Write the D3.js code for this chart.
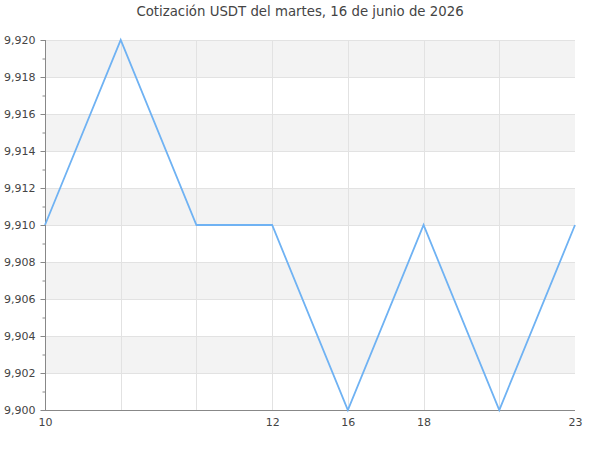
<!DOCTYPE html>
<html>
<head>
<meta charset="utf-8">
<script src="https://cdn.jsdelivr.net/npm/d3@7/dist/d3.min.js"></script>
<style>
  body { margin: 0; background: #fff; }
  svg { display: block; font-family: "DejaVu Sans", sans-serif; }
</style>
</head>
<body>
<svg id="chart" width="600" height="450"></svg>
<script>
const title = "Cotización USDT del martes, 16 de junio de 2026";
const hours = ["10", "", "", "12", "16", "18", "", "23"];
const values = [9.910, 9.920, 9.910, 9.910, 9.900, 9.910, 9.900, 9.910];
const yTicks = [9.900, 9.902, 9.904, 9.906, 9.908, 9.910, 9.912, 9.914, 9.916, 9.918, 9.920];
const yMinorTicks = [9.901, 9.903, 9.905, 9.907, 9.909, 9.911, 9.913, 9.915, 9.917, 9.919];

const svg = d3.select("#chart");
const margin = { left: 45, right: 25, top: 40, bottom: 40 };
const W = 600, H = 450;
const x0 = margin.left, x1 = W - margin.right, y0 = H - margin.bottom, y1 = margin.top;

const locale = d3.formatLocale({ decimal: ",", thousands: ".", grouping: [3], currency: ["", ""] });
const fmt = locale.format(".3f");

const x = d3.scalePoint().domain(d3.range(hours.length)).range([x0, x1]);
const y = d3.scaleLinear().domain([9.900, 9.920]).range([y0, y1]);

// bands
const bands = [];
for (let i = 0; i < yTicks.length - 1; i++) {
  if ((yTicks.length - 2 - i) % 2 === 0) bands.push([yTicks[i], yTicks[i + 1]]);
}
svg.append("g").selectAll("rect").data(bands).join("rect")
  .attr("x", x0).attr("width", x1 - x0)
  .attr("y", d => y(d[1])).attr("height", d => y(d[0]) - y(d[1]))
  .attr("fill", "#f3f3f3");

// horizontal grid
svg.append("g").selectAll("line").data(yTicks.slice(1)).join("line")
  .attr("x1", x0).attr("x2", x1)
  .attr("y1", d => Math.round(y(d)) + 0.5).attr("y2", d => Math.round(y(d)) + 0.5)
  .attr("stroke", "#e2e2e2").attr("stroke-width", 1);

// vertical grid
svg.append("g").selectAll("line").data(d3.range(1, hours.length - 1)).join("line")
  .attr("x1", d => Math.round(x(d)) + 0.5).attr("x2", d => Math.round(x(d)) + 0.5)
  .attr("y1", y1).attr("y2", y0)
  .attr("stroke", "#e2e2e2").attr("stroke-width", 1);

// y axis
const yAxis = d3.axisLeft(y).tickValues(yTicks).tickFormat(fmt).tickSize(5).tickPadding(5);
const gy = svg.append("g").attr("transform", `translate(${x0 + 0.5},0)`).call(yAxis);
gy.select(".domain").attr("stroke", "#888");
gy.selectAll(".tick line").attr("stroke", "#888");
gy.selectAll(".tick text").attr("fill", "#444").style("font-size", "11px").style("font-family", "DejaVu Sans, sans-serif");
const yMinor = d3.axisLeft(y).tickValues(yMinorTicks).tickFormat("").tickSize(3);
const gym = svg.append("g").attr("transform", `translate(${x0 + 0.5},0)`).call(yMinor);
gym.select(".domain").remove();
gym.selectAll(".tick line").attr("stroke", "#888");
gy.select(".domain").attr("d", `M0,${y1}V${y0 + 0.5}`);

// x axis
const xAxis = d3.axisBottom(x).tickFormat(i => hours[i]).tickSize(0).tickPadding(8);
const gx = svg.append("g").attr("transform", `translate(0,${y0 + 0.5})`).call(xAxis);
gx.select(".domain").attr("stroke", "#888").attr("d", `M${x0},0H${x1}`);
gx.selectAll(".tick text").attr("fill", "#444").style("font-size", "11px").style("font-family", "DejaVu Sans, sans-serif");

// line
const line = d3.line().x((d, i) => x(i)).y(d => y(d));
svg.append("path").datum(values)
  .attr("d", line).attr("fill", "none")
  .attr("stroke", "#6fb2f3").attr("stroke-width", 1.8).attr("stroke-linejoin", "miter");

// title
svg.append("text").attr("x", W / 2).attr("y", 16).attr("text-anchor", "middle")
  .attr("fill", "#444").style("font-size", "13.3px").text(title);
</script>
</body>
</html>
